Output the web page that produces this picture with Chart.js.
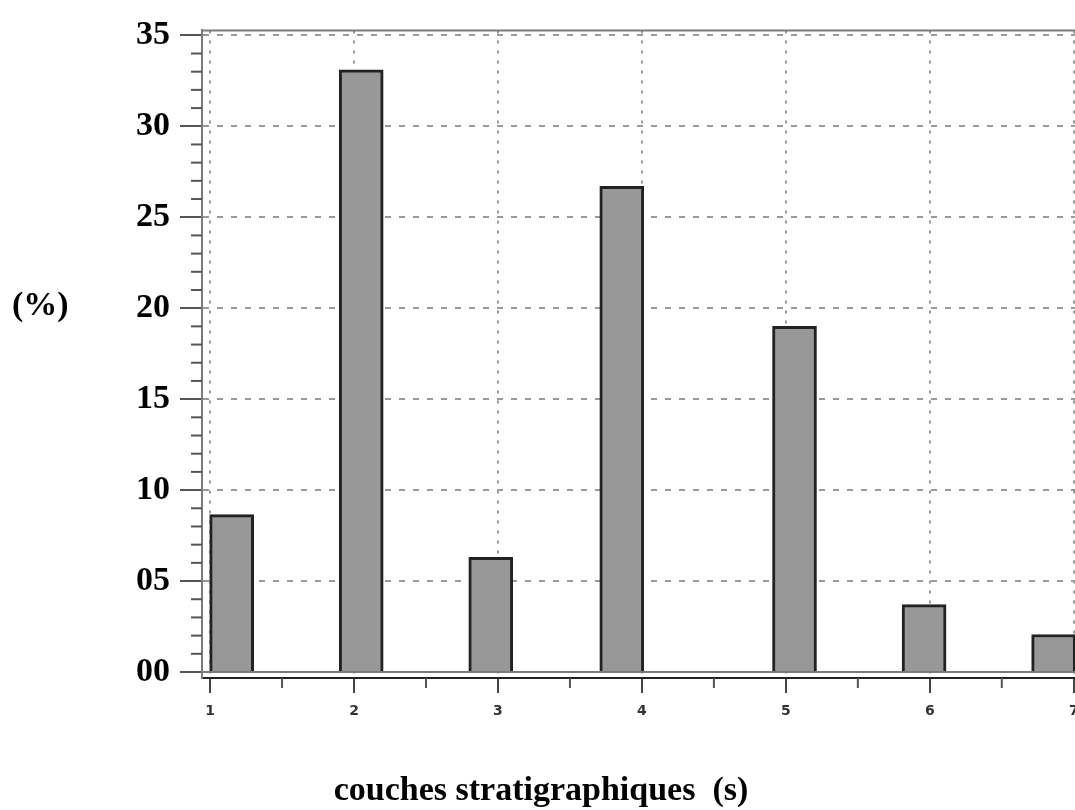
<html>
<head>
  <meta charset="utf-8">
  <script src="https://cdn.jsdelivr.net/npm/chart.js@4.4.1/dist/chart.umd.min.js"></script>
  <style>
    body { margin: 0; overflow: hidden; background: #fff; }
  </style>
</head>
<body>
<canvas id="canvas" width="1140" height="810"></canvas>
<script>
// bar positions on the layer axis and their percentages
var layerPos = [1.15, 2.05, 2.95, 3.86, 5.06, 5.96, 6.86];
var percents = [8.65, 33.1, 6.3, 26.7, 19.0, 3.7, 2.06];
var xTicks = [1, 2, 3, 4, 5, 6, 7];
var yTicks = [0, 5, 10, 15, 20, 25, 30, 35];
var yTickLabels = ['00', '05', '10', '15', '20', '25', '30', '35'];

var points = layerPos.map(function(x, i) { return {x: x, y: percents[i]}; });

var extras = {
  id: 'extras',
  afterDraw: function(chart) {
    var ctx = chart.ctx, a = chart.chartArea;
    var xs = chart.scales.x, ys = chart.scales.y;
    ctx.save();
    ctx.strokeStyle = '#555';
    ctx.lineWidth = 2;
    // minor ticks on y
    for (var v = 1; v < 35; v++) {
      if (v % 5 === 0) continue;
      var py = ys.getPixelForValue(v);
      ctx.beginPath(); ctx.moveTo(a.left - 11, py); ctx.lineTo(a.left, py); ctx.stroke();
    }
    // minor ticks on x
    for (var u = 1.5; u < 7.5; u++) {
      var px = xs.getPixelForValue(u);
      ctx.beginPath(); ctx.moveTo(px, a.bottom); ctx.lineTo(px, a.bottom + 10); ctx.stroke();
    }
    // zero line and top frame
    ctx.strokeStyle = '#7a7a7a';
    var p0 = ys.getPixelForValue(0);
    ctx.beginPath(); ctx.moveTo(a.left, p0); ctx.lineTo(a.right, p0); ctx.stroke();
    ctx.beginPath(); ctx.moveTo(a.left, a.top); ctx.lineTo(a.right, a.top); ctx.stroke();

    // titles
    ctx.fillStyle = '#000';
    ctx.font = 'bold 34px "Liberation Serif"';
    ctx.textBaseline = 'middle';
    ctx.textAlign = 'left';
    ctx.fillText('(%)', 12, 306);
    ctx.textAlign = 'center';
    ctx.textBaseline = 'alphabetic';
    ctx.fillText('couches stratigraphiques  (s)', 541, 800);
    ctx.restore();
  }
};

var ctx = document.getElementById('canvas').getContext('2d');
var myChart = new Chart(ctx, {
  type: 'bar',
  data: {
    datasets: [{
      data: points,
      backgroundColor: '#989898',
      borderColor: '#222',
      borderWidth: 3,
      barThickness: 44
    }]
  },
  options: {
    responsive: false,
    animation: false,
    devicePixelRatio: 1,
    layout: { padding: { top: 25, left: 0, right: 0, bottom: 0 } },
    plugins: { legend: { display: false }, tooltip: { enabled: false } },
    scales: {
      x: {
        type: 'linear',
        offset: false,
        min: 0.944,
        max: 7.46,
        afterBuildTicks: function(s) { s.ticks = xTicks.map(function(v) { return {value: v}; }); },
        afterFit: function(s) { s.height = 132; },
        ticks: {
          autoSkip: false,
          maxRotation: 0,
          padding: 10,
          color: '#333',
          font: { family: 'DejaVu Sans', weight: 'bold', size: 14 }
        },
        grid: {
          offset: false,
          color: '#9a9a9a',
          lineWidth: 2,
          tickLength: 15,
          tickColor: '#444',
          tickWidth: 2
        },
        border: { color: '#222', width: 2, dash: [3, 7] }
      },
      y: {
        min: -0.33,
        max: 35.27,
        afterBuildTicks: function(s) { s.ticks = yTicks.map(function(v) { return {value: v}; }); },
        afterFit: function(s) { s.width = 202; },
        ticks: {
          autoSkip: false,
          padding: 10,
          color: '#000',
          font: { family: 'Liberation Serif', weight: 'bold', size: 34 },
          callback: function(v, i) { return yTickLabels[i]; }
        },
        grid: {
          color: function(c) { return c.tick && c.tick.value === 0 ? 'rgba(0,0,0,0)' : '#9a9a9a'; },
          lineWidth: 2,
          tickLength: 22,
          tickColor: '#555',
          tickWidth: 2
        },
        border: { color: '#7a7a7a', width: 2, dash: [6, 8] }
      }
    }
  },
  plugins: [extras]
});
</script>
</body>
</html>
